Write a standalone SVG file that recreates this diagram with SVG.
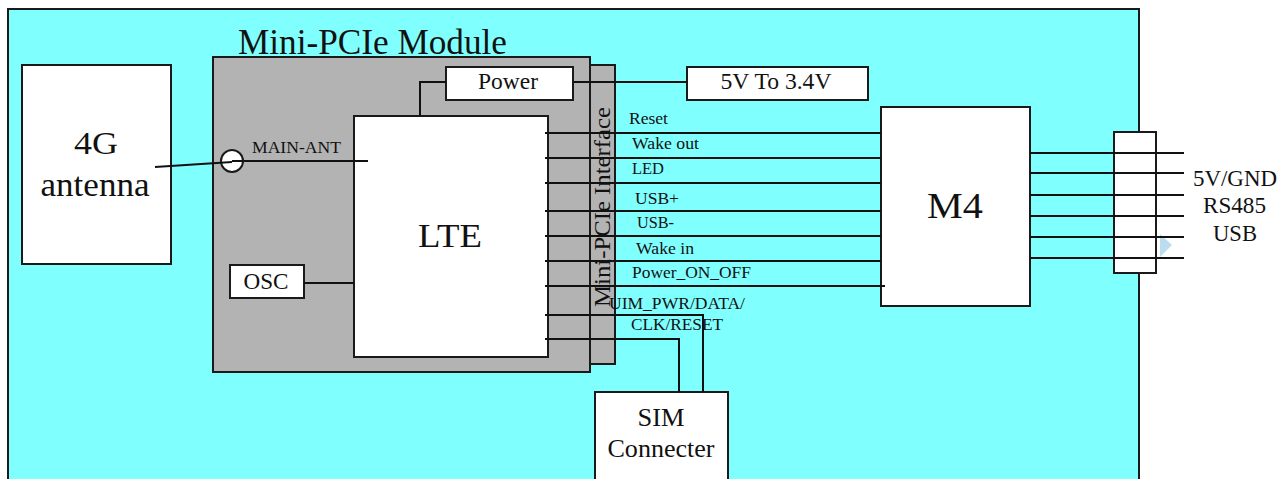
<svg xmlns="http://www.w3.org/2000/svg" width="1280" height="479" viewBox="0 0 1280 479">
<style>
.box{fill:#ffffff;stroke:#1a1a1a;stroke-width:2}
text{font-family:'Liberation Serif','Times New Roman',Times,serif;fill:#111}
.lbl{font-size:17.5px}
.w{stroke:#111;stroke-width:2;fill:none}
</style>
<rect width="1280" height="479" fill="#ffffff"/>
<g id="board">
<rect x="8" y="9" width="1131" height="490" fill="#80ffff" stroke="#1a1a1a" stroke-width="2"/>
</g>
<g id="module">
<rect x="213" y="57" width="377" height="315" fill="#b3b3b3" stroke="#1a1a1a" stroke-width="2"/>
<text x="238" y="54" font-size="35" textLength="269" lengthAdjust="spacingAndGlyphs">Mini-PCIe Module</text>
</g>
<g id="interface">
<rect x="590" y="65" width="25" height="299" fill="#b3b3b3" stroke="#1a1a1a" stroke-width="2"/>
<text transform="translate(610,207) rotate(-90)" text-anchor="middle" font-size="23" textLength="200" lengthAdjust="spacingAndGlyphs">Mini-PCIe Interface</text>
</g>
<g id="antenna">
<rect class="box" x="22" y="65" width="149" height="199"/>
<text x="96" y="154" font-size="32" text-anchor="middle" textLength="44" lengthAdjust="spacingAndGlyphs">4G</text>
<text x="95" y="196" font-size="33" text-anchor="middle" textLength="109" lengthAdjust="spacingAndGlyphs">antenna</text>
</g>
<g id="power">
<rect class="box" x="446" y="67" width="127" height="33"/>
<text x="508" y="89" font-size="23" text-anchor="middle" textLength="60" lengthAdjust="spacingAndGlyphs">Power</text>
</g>
<g id="conv">
<rect class="box" x="687" y="67" width="181" height="33"/>
<text x="776" y="89" font-size="23" text-anchor="middle" textLength="111" lengthAdjust="spacingAndGlyphs">5V To 3.4V</text>
</g>
<g id="lte">
<rect class="box" x="354" y="116" width="194" height="241"/>
<text x="450" y="247" font-size="34" text-anchor="middle" textLength="64" lengthAdjust="spacingAndGlyphs">LTE</text>
</g>
<g id="osc">
<rect class="box" x="230" y="265" width="74" height="33"/>
<text x="266" y="289" font-size="23" text-anchor="middle" textLength="45" lengthAdjust="spacingAndGlyphs">OSC</text>
</g>
<g id="m4">
<rect class="box" x="881" y="107" width="149" height="199"/>
<text x="955" y="218" font-size="35" text-anchor="middle" textLength="56" lengthAdjust="spacingAndGlyphs">M4</text>
</g>
<g id="sim">
<rect class="box" x="595" y="392" width="133" height="100"/>
<text x="661" y="426" font-size="25" text-anchor="middle" textLength="47" lengthAdjust="spacingAndGlyphs">SIM</text>
<text x="661" y="457" font-size="25" text-anchor="middle" textLength="107" lengthAdjust="spacingAndGlyphs">Connecter</text>
</g>
<g id="ant-port">
<circle cx="232" cy="161" r="11" fill="#ffffff" stroke="#1a1a1a" stroke-width="2"/>
<text x="252" y="153" font-size="17" textLength="89" lengthAdjust="spacingAndGlyphs">MAIN-ANT</text>
</g>
<g id="connector">
<rect class="box" x="1114" y="132" width="42" height="141"/>
<polygon points="1160,234 1172,245 1160,257" fill="#bcdcf0"/>
<text x="1193" y="186" font-size="23" textLength="84" lengthAdjust="spacingAndGlyphs">5V/GND</text>
<text x="1203" y="213" font-size="23" textLength="63" lengthAdjust="spacingAndGlyphs">RS485</text>
<text x="1213" y="241" font-size="23" textLength="44" lengthAdjust="spacingAndGlyphs">USB</text>
</g>
<g id="connectors">
<path class="w" d="M155,167 L232,162 M232,161 H368"/>
<path class="w" d="M446,82 H420 V116"/>
<path class="w" d="M573,82 H687"/>
<path class="w" d="M304,283 H354"/>
<path class="w" d="M545,133 H881 M545,158 H881 M545,183 H881 M545,211 H881 M545,236 H881 M545,261 H881 M545,286 H885"/>
<path class="w" d="M545,315 H703 V392 M545,339 H679 V392"/>
<path class="w" d="M1030,153 H1184 M1030,173 H1184 M1030,195 H1184 M1030,216 H1184 M1030,237 H1184 M1030,258 H1184"/>
<text class="lbl" x="629" y="124" textLength="39" lengthAdjust="spacingAndGlyphs">Reset</text>
<text class="lbl" x="632" y="149" textLength="67" lengthAdjust="spacingAndGlyphs">Wake out</text>
<text class="lbl" x="632" y="174" textLength="32" lengthAdjust="spacingAndGlyphs">LED</text>
<text class="lbl" x="635" y="204" textLength="44" lengthAdjust="spacingAndGlyphs">USB+</text>
<text class="lbl" x="637" y="228" textLength="37" lengthAdjust="spacingAndGlyphs">USB-</text>
<text class="lbl" x="636" y="254" textLength="58" lengthAdjust="spacingAndGlyphs">Wake in</text>
<text class="lbl" x="632" y="278" textLength="119" lengthAdjust="spacingAndGlyphs">Power_ON_OFF</text>
<text class="lbl" x="609" y="309" textLength="136" lengthAdjust="spacingAndGlyphs">UIM_PWR/DATA/</text>
<text class="lbl" x="631" y="330" textLength="92" lengthAdjust="spacingAndGlyphs">CLK/RESET</text>
</g>
</svg>
